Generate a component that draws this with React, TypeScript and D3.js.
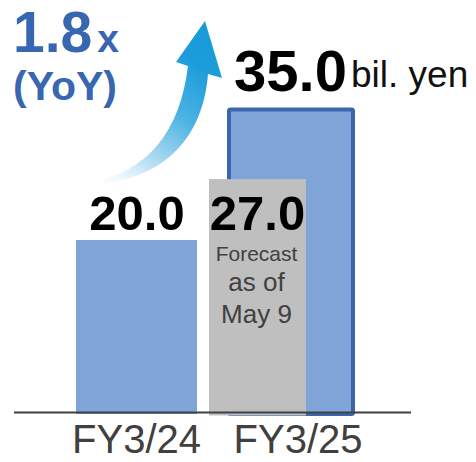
import React from "react";
import * as d3 from "d3";

const categories = ["FY3/24", "FY3/25"];
const actualValue = 20.0;
const forecastValue = 27.0;
const targetValue = 35.0;
const valueLabels = ["20.0", "27.0", "35.0"];
const unitLabel = "bil. yen";
const growthLabel = "1.8";
const growthSuffix = "x";
const yoyLabel = "(YoY)";
const forecastNote = ["Forecast", "as of", "May 9"];

const W = 476;
const H = 462;
const FONT = "'Liberation Sans', Arial, Helvetica, sans-serif";

export default function App() {
  const y = d3.scaleLinear().domain([0, 35]).range([414, 109.5]);
  const x = d3.scalePoint<string>().domain(categories).range([136.5, 298]);

  const x24 = x("FY3/24")!;
  const x25 = x("FY3/25")!;

  // arrow path (decorative)
  const arrow = d3.path();
  arrow.moveTo(86, 184);
  arrow.bezierCurveTo(150, 184, 202, 150, 208, 74);
  arrow.lineTo(222, 78);
  arrow.lineTo(205, 21);
  arrow.lineTo(176, 62);
  arrow.lineTo(188, 66);
  arrow.bezierCurveTo(180, 130, 150, 172, 86, 184);
  arrow.closePath();

  const textColor = "#404040";
  const blueText = "#3866b0";
  const barFill = "#7fa4d7";
  const barStroke = "#3b66ae";
  const gray = "#bfbfbf";

  return (
    <svg
      width={W}
      height={H}
      style={{ position: "absolute", left: 0, top: 0, background: "#fff" }}
      fontFamily={FONT}
    >
      <defs>
        <linearGradient id="arrowGrad" gradientUnits="userSpaceOnUse" x1={86} y1={184} x2={205} y2={21}>
          <stop offset="0" stopColor="#ffffff" stopOpacity={0.1} />
          <stop offset="0.25" stopColor="#c0e3f5" />
          <stop offset="0.55" stopColor="#4cb2e3" />
          <stop offset="0.8" stopColor="#1c9ddb" />
          <stop offset="1" stopColor="#189ad9" />
        </linearGradient>
      </defs>

      {/* growth arrow */}
      <path d={arrow.toString()} fill="url(#arrowGrad)" />

      {/* FY3/24 actual bar */}
      <rect x={x24 - 60.5} y={y(actualValue)} width={121} height={y(0) - y(actualValue)} fill={barFill} />

      {/* FY3/25 target bar */}
      <rect
        x={x25 - 69}
        y={y(targetValue)}
        width={124}
        height={y(0) - y(targetValue)}
        fill={barFill}
        stroke={barStroke}
        strokeWidth={4}
        rx={1.5}
      />

      {/* FY3/25 forecast bar */}
      <rect x={x25 - 89} y={y(forecastValue)} width={97} height={y(0) + 1.5 - y(forecastValue)} fill={gray} />

      {/* axis line */}
      <line x1={14} x2={411} y1={412.5} y2={412.5} stroke={textColor} strokeWidth={2} />

      {/* value labels */}
      <text x={x24 + 0.5} y={y(actualValue) - 10} textAnchor="middle" fontWeight="bold" fontSize={49} fill="#000">
        {valueLabels[0]}
      </text>
      <text x={x25 - 40.5} y={y(actualValue) - 10} textAnchor="middle" fontWeight="bold" fontSize={49} fill="#000">
        {valueLabels[1]}
      </text>
      <text x={234} y={91} fontWeight="bold" fontSize={58} fill="#000">
        {valueLabels[2]}
      </text>
      <text x={351} y={87} fontSize={37} fill="#111">
        {unitLabel}
      </text>

      {/* forecast note */}
      <text x={x25 - 41.5} y={261} textAnchor="middle" fontSize={21} fill={textColor}>
        {forecastNote[0]}
      </text>
      <text x={x25 - 41.5} y={291} textAnchor="middle" fontSize={26} fill={textColor}>
        {forecastNote[1]}
      </text>
      <text x={x25 - 41.5} y={323} textAnchor="middle" fontSize={26} fill={textColor}>
        {forecastNote[2]}
      </text>

      {/* growth labels */}
      <text x={13} y={52} fontWeight="bold" fill={blueText}>
        <tspan fontSize={57}>{growthLabel}</tspan>
        <tspan fontSize={39} dx={5}>{growthSuffix}</tspan>
      </text>
      <text x={13} y={100} fontWeight="bold" fontSize={41} fill={blueText}>
        {yoyLabel}
      </text>

      {/* category labels */}
      {categories.map((c) => (
        <text key={c} x={x(c)!} y={453} textAnchor="middle" fontSize={40} fill={textColor}>
          {c}
        </text>
      ))}
    </svg>
  );
}
